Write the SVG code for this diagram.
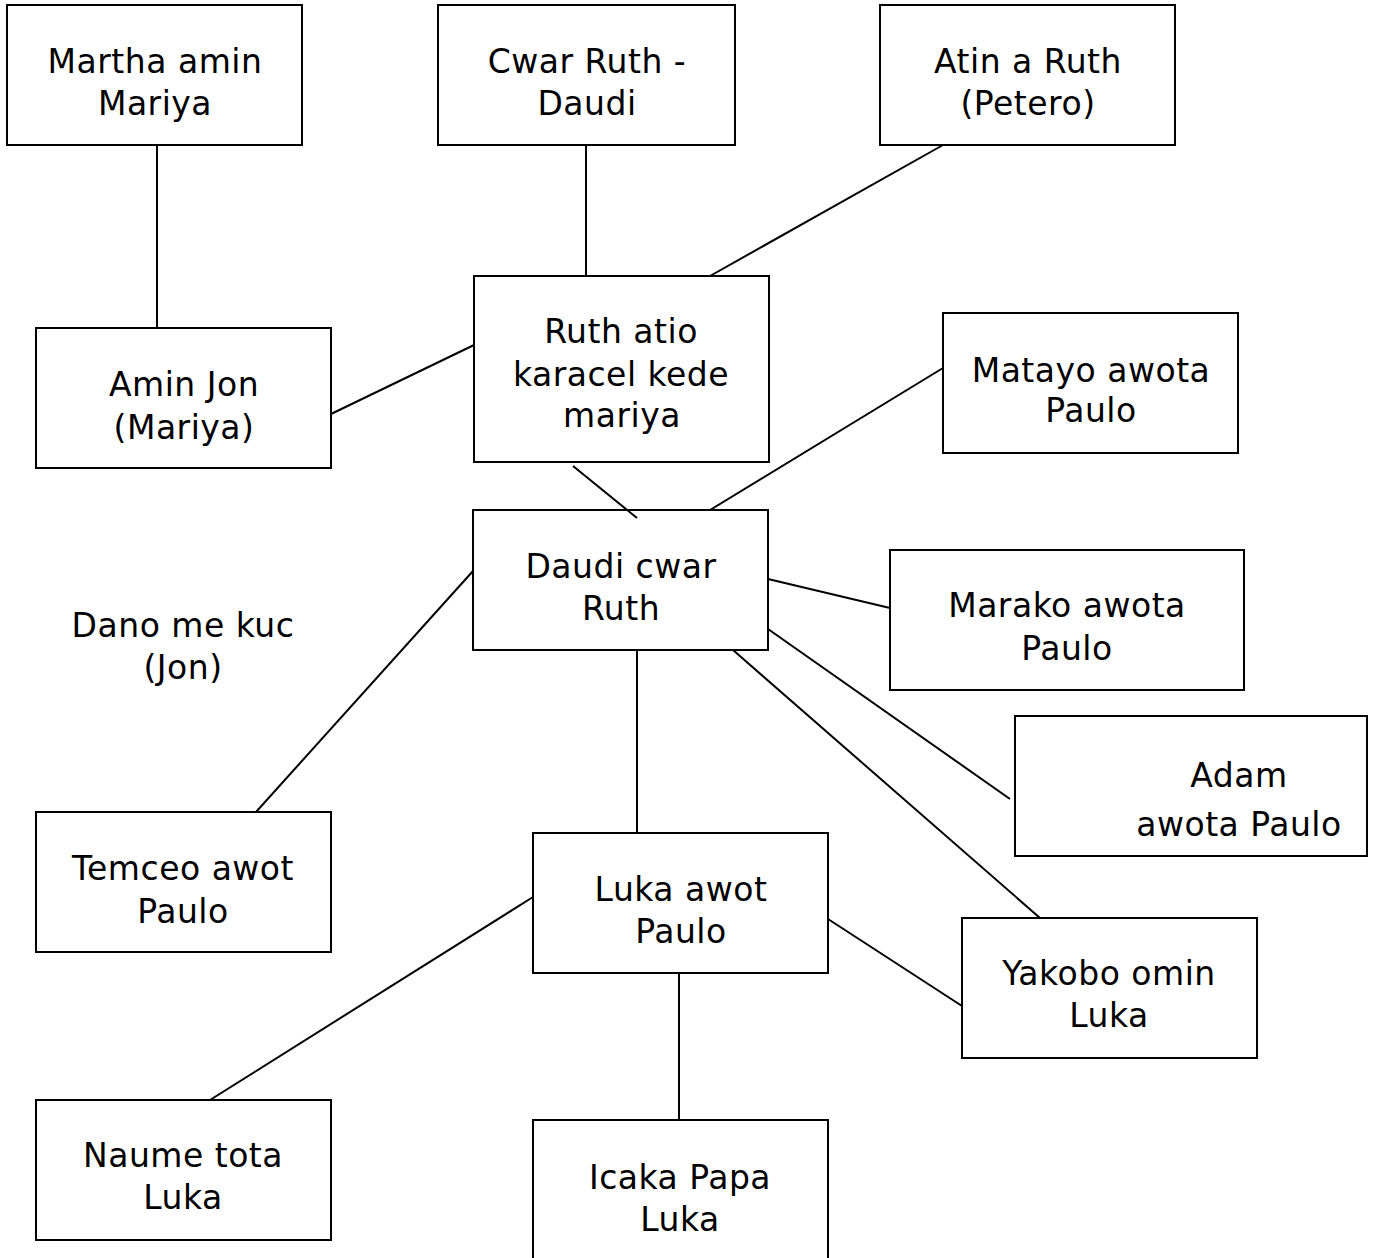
<svg xmlns="http://www.w3.org/2000/svg" width="1375" height="1258" viewBox="0 0 1375 1258">
<style>
.box{fill:none;stroke:#000;stroke-width:2}
.lbl{font-family:"DejaVu Sans","Liberation Sans",sans-serif;font-size:33px;letter-spacing:0.5px;fill:#000;text-anchor:middle}
.con line{stroke:#000;stroke-width:2}
</style>
<rect width="1375" height="1258" fill="#fff"/>
<g class="con" id="connectors">
<line x1="157" y1="145" x2="157" y2="328"/>
<line x1="586" y1="145" x2="586" y2="276"/>
<line x1="943" y1="145" x2="710" y2="276"/>
<line x1="331" y1="414" x2="474" y2="345"/>
<line x1="573" y1="466" x2="637" y2="518"/>
<line x1="943" y1="368" x2="710" y2="510"/>
<line x1="768" y1="579" x2="890" y2="608"/>
<line x1="768" y1="629" x2="1010" y2="799"/>
<line x1="733" y1="650" x2="1040" y2="918"/>
<line x1="637" y1="650" x2="637" y2="833"/>
<line x1="473" y1="571" x2="256" y2="812"/>
<line x1="533" y1="897" x2="210" y2="1100"/>
<line x1="828" y1="919" x2="962" y2="1006"/>
<line x1="679" y1="973" x2="679" y2="1120"/>
</g>
<g id="martha"><rect class="box" x="7" y="5" width="295" height="140"/><text class="lbl" x="155" y="73">Martha amin</text><text class="lbl" x="155" y="115">Mariya</text></g>
<g id="cwar"><rect class="box" x="438" y="5" width="297" height="140"/><text class="lbl" x="587" y="73">Cwar Ruth -</text><text class="lbl" x="587" y="115">Daudi</text></g>
<g id="atin"><rect class="box" x="880" y="5" width="295" height="140"/><text class="lbl" x="1028" y="73">Atin a Ruth</text><text class="lbl" x="1028" y="115">(Petero)</text></g>
<g id="aminjon"><rect class="box" x="36" y="328" width="295" height="140"/><text class="lbl" x="184" y="396">Amin Jon</text><text class="lbl" x="184" y="439">(Mariya)</text></g>
<g id="ruth"><rect class="box" x="474" y="276" width="295" height="186"/><text class="lbl" x="621" y="343">Ruth atio</text><text class="lbl" x="621" y="386">karacel kede</text><text class="lbl" x="622" y="427">mariya</text></g>
<g id="matayo"><rect class="box" x="943" y="313" width="295" height="140"/><text class="lbl" x="1091" y="382">Matayo awota</text><text class="lbl" x="1091" y="422">Paulo</text></g>
<g id="daudi"><rect class="box" x="473" y="510" width="295" height="140"/><text class="lbl" x="621" y="578">Daudi cwar</text><text class="lbl" x="621" y="620">Ruth</text></g>
<g id="marako"><rect class="box" x="890" y="550" width="354" height="140"/><text class="lbl" x="1067" y="617">Marako awota</text><text class="lbl" x="1067" y="660">Paulo</text></g>
<g id="adam"><rect class="box" x="1015" y="716" width="352" height="140"/><text class="lbl" x="1239" y="787">Adam</text><text class="lbl" x="1239" y="836">awota Paulo</text></g>
<g id="dano"><text class="lbl" x="183" y="637">Dano me kuc</text><text class="lbl" x="183" y="679">(Jon)</text></g>
<g id="temceo"><rect class="box" x="36" y="812" width="295" height="140"/><text class="lbl" x="183" y="880">Temceo awot</text><text class="lbl" x="183" y="923">Paulo</text></g>
<g id="luka"><rect class="box" x="533" y="833" width="295" height="140"/><text class="lbl" x="681" y="901">Luka awot</text><text class="lbl" x="681" y="943">Paulo</text></g>
<g id="yakobo"><rect class="box" x="962" y="918" width="295" height="140"/><text class="lbl" x="1109" y="985">Yakobo omin</text><text class="lbl" x="1109" y="1027">Luka</text></g>
<g id="naume"><rect class="box" x="36" y="1100" width="295" height="140"/><text class="lbl" x="183" y="1167">Naume tota</text><text class="lbl" x="183" y="1209">Luka</text></g>
<g id="icaka"><rect class="box" x="533" y="1120" width="295" height="150"/><text class="lbl" x="680" y="1189">Icaka Papa</text><text class="lbl" x="680" y="1231">Luka</text></g>
</svg>
